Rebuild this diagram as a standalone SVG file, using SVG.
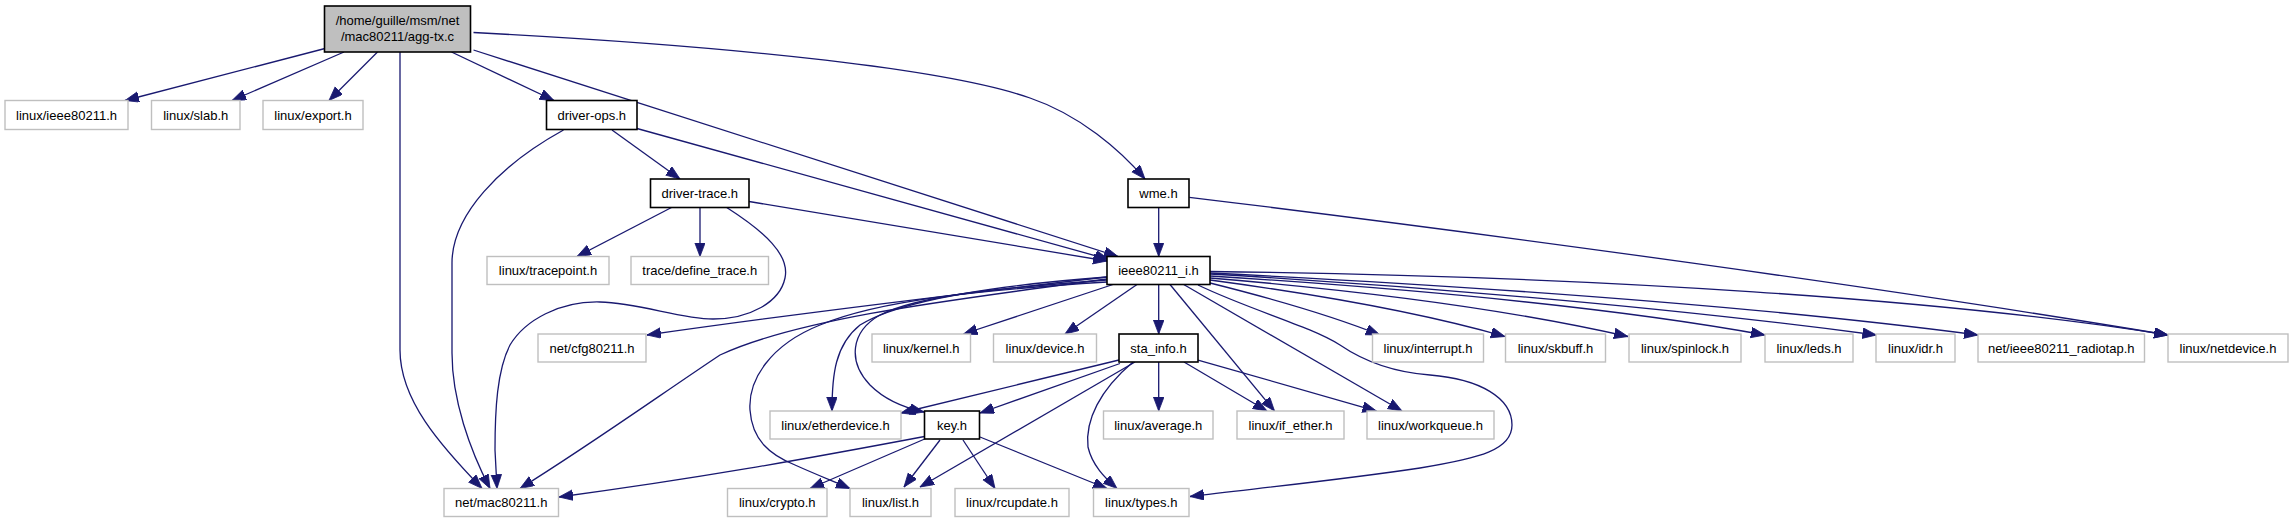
<svg xmlns="http://www.w3.org/2000/svg" width="2293" height="523" viewBox="0 0 2293 523">
<style>
.b rect{fill:#fff;stroke:#000;stroke-width:1.6}
.g rect{fill:#fff;stroke:#bfbfbf;stroke-width:1.4}
.r rect{fill:#bfbfbf;stroke:#000;stroke-width:1.6}
text{font-family:"Liberation Sans",Arial,Helvetica,sans-serif;font-size:13px;fill:#000;text-anchor:middle}
#edges path{fill:none;stroke:#191970;stroke-width:1.3;marker-end:url(#ah)}
</style>
<defs>
<marker id="ah" markerUnits="userSpaceOnUse" markerWidth="15" markerHeight="12" refX="14" refY="5.3" orient="auto">
<path d="M0,0 L14,5.3 L0,10.6 z" fill="#191970" stroke="#191970" stroke-width="0.8"/>
</marker>
</defs>
<rect width="2293" height="523" fill="#fff"/>
<g id="edges">
<path d="M325,48.5 L125,100.5"/>
<path d="M344,52 L232,100.5"/>
<path d="M377.5,52 L329,100.5"/>
<path d="M400,52 L400,350 C400,400 440,445 482,488.5"/>
<path d="M451.5,52 L554,100.5"/>
<path d="M473.5,50 L1118,256.5"/>
<path d="M473.5,32.5 C750,47 950,70 1030,98 C1080,115 1120,150 1145,179"/>
<path d="M612,130 L680,179"/>
<path d="M637,128.5 L1109,259.5"/>
<path d="M563.5,130 C500,165 452,215 452,263 L452,353 C452,400 470,450 490,488.5"/>
<path d="M671.5,207.5 L577,256.5"/>
<path d="M700,207.5 L700,256.5"/>
<path d="M726.7,207.5 C765,232 790,255 785,278 C780,302 750,319 713,319 C680,319 640,303 600,302 C560,301 525,320 510,345 C497,370 495,410 495,450 L497,488.5"/>
<path d="M749,201.5 L1107,261"/>
<path d="M1158.7,207.5 L1158.7,256.5"/>
<path d="M1189.3,197.3 C1500,235 1900,290 2168,335"/>
<path d="M1107,277 C950,295 800,313 647,335"/>
<path d="M1107,279 C950,300 800,318 720,355 C660,395 590,445 520,488.5"/>
<path d="M1107,277 C1000,285 900,300 860,325 C835,345 832,375 832,411"/>
<path d="M1107,280 C1000,288 920,295 880,315 C850,332 848,362 870,385 C885,400 905,408 924,412"/>
<path d="M1107,282 C980,290 880,300 820,325 C770,345 748,380 750,410 C752,440 770,455 795,465 C815,474 835,482 850,488.5"/>
<path d="M1113,284.5 L963.5,334"/>
<path d="M1137,284.5 L1065,334"/>
<path d="M1158.7,284.5 L1158.7,334"/>
<path d="M1170,284.5 L1274.5,411"/>
<path d="M1183.7,284.5 L1402,411"/>
<path d="M1198,285 C1250,310 1310,326 1340,345 C1362,360 1390,372 1430,375 C1480,379 1512,398 1512,425 C1512,450 1480,458 1420,468 C1340,480 1260,488 1190,496.5"/>
<path d="M1210,283 C1270,298 1330,315 1380,335"/>
<path d="M1210,280 C1330,296 1430,315 1505,336.5"/>
<path d="M1210,278 C1380,292 1520,312 1628,336.5"/>
<path d="M1210,276 C1400,288 1600,305 1765,335"/>
<path d="M1210,274 C1400,285 1650,305 1876.5,335"/>
<path d="M1210,273 C1450,285 1750,305 1978,335"/>
<path d="M1210,271.5 C1600,276 1950,300 2168,335"/>
<path d="M1119,360 L901,413"/>
<path d="M1120,363.5 L980,413"/>
<path d="M1135,362 L920,487"/>
<path d="M1133,362 C1100,390 1085,420 1088,447 C1092,465 1105,478 1117,488.5"/>
<path d="M1158.7,362 L1158.7,411"/>
<path d="M1184,362 L1267,411"/>
<path d="M1198,360 L1376.5,411"/>
<path d="M924.5,436.5 C800,460 700,478 559,497"/>
<path d="M927,438 L810,488.5"/>
<path d="M940,440 L904,487"/>
<path d="M963,440 L995,488.5"/>
<path d="M980,437 L1107,488.5"/>
</g>
<g id="n-agg" class="r"><rect x="324.5" y="6" width="146" height="46"/><text x="397.5" y="25">/home/guille/msm/net</text><text x="397.5" y="41">/mac80211/agg-tx.c</text></g>
<g id="n-ieee80211" class="g"><rect x="5" y="100.5" width="123" height="29"/><text x="66.5" y="119.5">linux/ieee80211.h</text></g>
<g id="n-slab" class="g"><rect x="151.5" y="100.5" width="88.5" height="29"/><text x="195.75" y="119.5">linux/slab.h</text></g>
<g id="n-export" class="g"><rect x="263" y="100.5" width="100" height="29"/><text x="313" y="119.5">linux/export.h</text></g>
<g id="n-driver-ops" class="b"><rect x="546.5" y="100.5" width="90.5" height="29"/><text x="591.75" y="119.5">driver-ops.h</text></g>
<g id="n-wme" class="b"><rect x="1128" y="179" width="61" height="28.5"/><text x="1158.5" y="197.7">wme.h</text></g>
<g id="n-driver-trace" class="b"><rect x="650.5" y="179" width="98.5" height="28.5"/><text x="699.75" y="197.7">driver-trace.h</text></g>
<g id="n-tracepoint" class="g"><rect x="487" y="256.5" width="122" height="28"/><text x="548" y="275">linux/tracepoint.h</text></g>
<g id="n-define_trace" class="g"><rect x="631" y="256.5" width="137.5" height="28"/><text x="699.75" y="275">trace/define_trace.h</text></g>
<g id="n-ieee80211_i" class="b"><rect x="1107" y="256.5" width="103" height="28"/><text x="1158.5" y="275">ieee80211_i.h</text></g>
<g id="n-cfg80211" class="g"><rect x="538" y="334" width="108" height="28"/><text x="592" y="352.5">net/cfg80211.h</text></g>
<g id="n-kernel" class="g"><rect x="872" y="334" width="98.5" height="28"/><text x="921.25" y="352.5">linux/kernel.h</text></g>
<g id="n-device" class="g"><rect x="993.5" y="334" width="103" height="28"/><text x="1045" y="352.5">linux/device.h</text></g>
<g id="n-sta_info" class="b"><rect x="1119" y="334" width="79" height="28"/><text x="1158.5" y="352.5">sta_info.h</text></g>
<g id="n-interrupt" class="g"><rect x="1372.5" y="334" width="111" height="28"/><text x="1428" y="352.5">linux/interrupt.h</text></g>
<g id="n-skbuff" class="g"><rect x="1505.5" y="334" width="100" height="28"/><text x="1555.5" y="352.5">linux/skbuff.h</text></g>
<g id="n-spinlock" class="g"><rect x="1629" y="334" width="112" height="28"/><text x="1685" y="352.5">linux/spinlock.h</text></g>
<g id="n-leds" class="g"><rect x="1765" y="334" width="88" height="28"/><text x="1809" y="352.5">linux/leds.h</text></g>
<g id="n-idr" class="g"><rect x="1876" y="334" width="79" height="28"/><text x="1915.5" y="352.5">linux/idr.h</text></g>
<g id="n-radiotap" class="g"><rect x="1978" y="334" width="166.5" height="28"/><text x="2061.25" y="352.5">net/ieee80211_radiotap.h</text></g>
<g id="n-netdevice" class="g"><rect x="2168" y="334" width="120" height="28"/><text x="2228" y="352.5">linux/netdevice.h</text></g>
<g id="n-etherdevice" class="g"><rect x="770" y="411" width="131" height="28"/><text x="835.5" y="429.5">linux/etherdevice.h</text></g>
<g id="n-key" class="b"><rect x="924.5" y="411" width="55" height="28"/><text x="952" y="429.5">key.h</text></g>
<g id="n-average" class="g"><rect x="1103.5" y="411" width="109.5" height="28"/><text x="1158.25" y="429.5">linux/average.h</text></g>
<g id="n-if_ether" class="g"><rect x="1237" y="411" width="107" height="28"/><text x="1290.5" y="429.5">linux/if_ether.h</text></g>
<g id="n-workqueue" class="g"><rect x="1367" y="411" width="127" height="28"/><text x="1430.5" y="429.5">linux/workqueue.h</text></g>
<g id="n-mac80211" class="g"><rect x="444" y="488.5" width="114.5" height="28"/><text x="501.25" y="507">net/mac80211.h</text></g>
<g id="n-crypto" class="g"><rect x="727.5" y="488.5" width="99.5" height="28"/><text x="777.25" y="507">linux/crypto.h</text></g>
<g id="n-list" class="g"><rect x="850" y="488.5" width="81" height="28"/><text x="890.5" y="507">linux/list.h</text></g>
<g id="n-rcupdate" class="g"><rect x="955" y="488.5" width="114" height="28"/><text x="1012" y="507">linux/rcupdate.h</text></g>
<g id="n-types" class="g"><rect x="1093.5" y="488.5" width="95.5" height="28"/><text x="1141.25" y="507">linux/types.h</text></g>
</svg>
